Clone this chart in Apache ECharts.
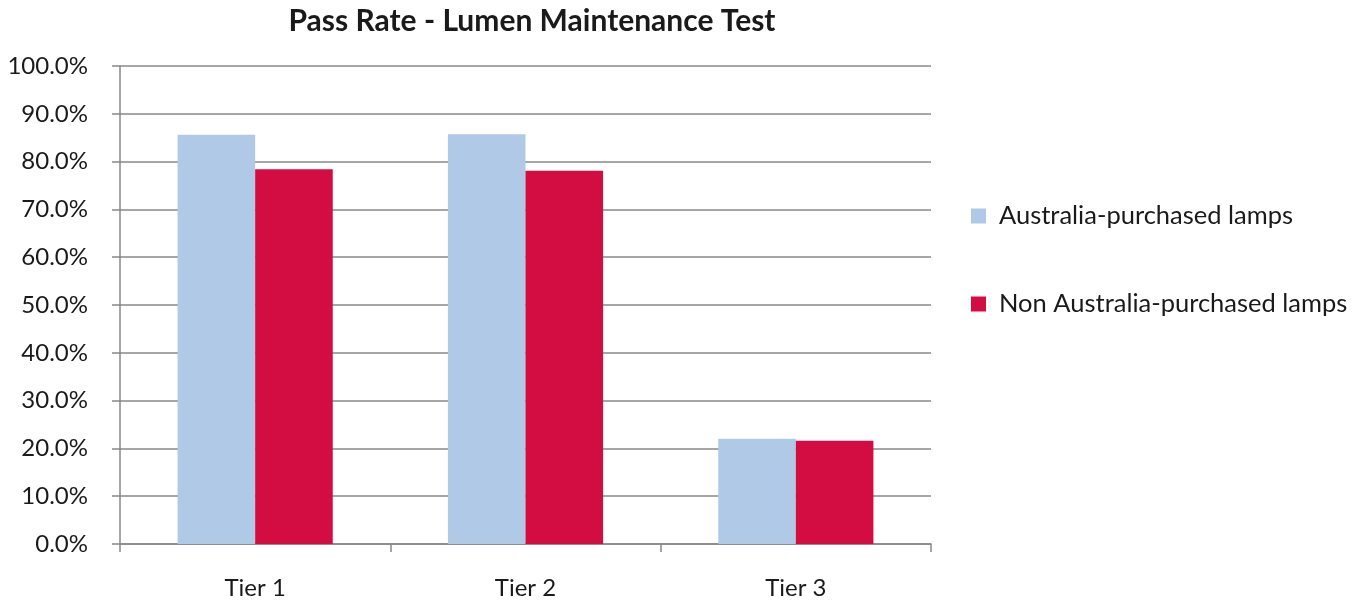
<!DOCTYPE html>
<html>
<head>
<meta charset="utf-8">
<script src="https://cdn.jsdelivr.net/npm/echarts@6/dist/echarts.min.js"></script>
<style>
  html, body { margin: 0; padding: 0; background: #fff; }
  #chart { width: 1366px; height: 606px; }
</style>
</head>
<body>
<div id="chart"></div>
<script>
// data
const tiers = ['Tier 1', 'Tier 2', 'Tier 3'];
const seriesNames = ['Australia-purchased lamps', 'Non Australia-purchased lamps'];
const australia = [85.6, 85.7, 22.0];
const nonAustralia = [78.4, 78.1, 21.6];
const yTicks = [0, 10, 20, 30, 40, 50, 60, 70, 80, 90, 100];

const font = 'Lato, "Open Sans", sans-serif';
const chart = echarts.init(document.getElementById('chart'));

const option = {
  animation: false,
  title: {
    text: 'Pass Rate - Lumen Maintenance Test',
    left: 527,
    textAlign: 'center',
    top: 1,
    textStyle: { fontFamily: font, fontSize: 30, fontWeight: 'bold', color: '#1a1a1a' }
  },
  legend: {
    orient: 'vertical',
    left: 966,
    top: 198,
    itemWidth: 15,
    itemHeight: 15,
    itemGap: 62,
    icon: 'rect',
    textStyle: { fontFamily: font, fontSize: 25.5, color: '#1a1a1a', padding: [0, 0, 0, 8] },
    data: seriesNames
  },
  grid: { left: 120, right: 435, top: 66, bottom: 62, containLabel: false },
  xAxis: {
    type: 'category',
    data: tiers,
    axisLine: { lineStyle: { color: '#888', width: 1.5 } },
    axisTick: { show: true, length: 8, lineStyle: { color: '#888', width: 1.5 } },
    axisLabel: { fontFamily: font, fontSize: 24, color: '#1a1a1a', margin: 32 }
  },
  yAxis: {
    type: 'value',
    min: yTicks[0],
    max: yTicks[yTicks.length - 1],
    interval: 10,
    axisLine: { show: true, lineStyle: { color: '#888', width: 1.5 } },
    axisTick: { show: true, length: 8, lineStyle: { color: '#888', width: 1.5 } },
    splitLine: { lineStyle: { color: '#888', width: 1.5 } },
    axisLabel: {
      fontFamily: font, fontSize: 24, color: '#1a1a1a', margin: 32,
      formatter: v => v.toFixed(1) + '%'
    }
  },
  series: [
    {
      name: seriesNames[0],
      type: 'bar',
      data: australia,
      barGap: '0%',
      barCategoryGap: '42.6%',
      itemStyle: { color: '#afc9e7' }
    },
    {
      name: seriesNames[1],
      type: 'bar',
      data: nonAustralia,
      itemStyle: { color: '#d30c42' }
    }
  ]
};

chart.setOption(option);
</script>
</body>
</html>
